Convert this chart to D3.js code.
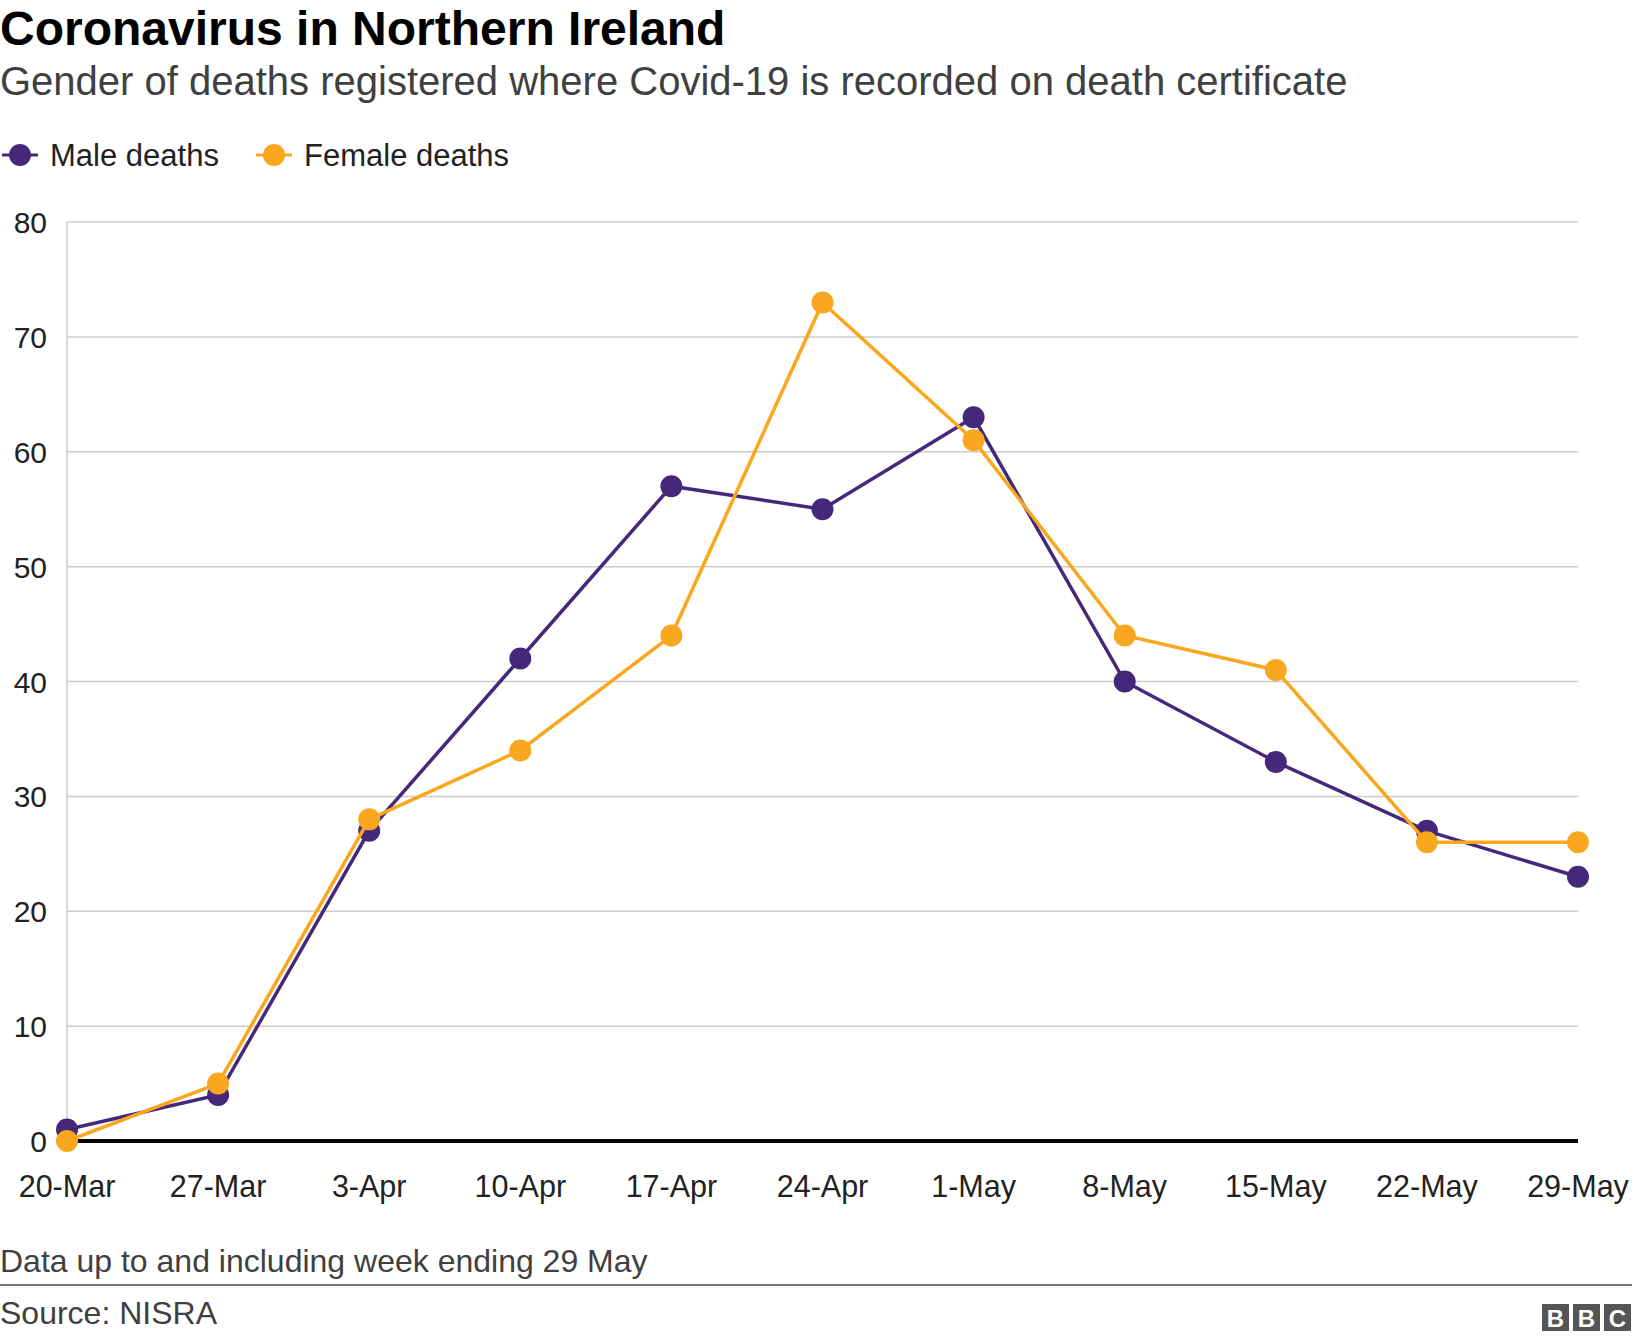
<!DOCTYPE html><html><head><meta charset="utf-8"><script src="https://cdn.jsdelivr.net/npm/d3@7"></script>
<style>body{margin:0;background:#fff}text{font-family:Arial,"Liberation Sans",sans-serif}</style></head><body><svg id="c" width="1632" height="1340"></svg>
<script>
const categories=["20-Mar","27-Mar","3-Apr","10-Apr","17-Apr","24-Apr","1-May","8-May","15-May","22-May","29-May"];
const maleDeaths=[1,4,27,42,57,55,63,40,33,27,23];
const femaleDeaths=[0,5,28,34,44,73,61,44,41,26,26];
const yTicks=[0,10,20,30,40,50,60,70,80];
const svg=d3.select("#c");
const x=d3.scalePoint().domain(categories).range([67,1578]);
const y=d3.scaleLinear().domain([0,80]).range([1141,222]);
svg.append("text").attr("x",0).attr("y",45).attr("font-size",48).attr("font-weight","bold").attr("fill","#000").text("Coronavirus in Northern Ireland");
svg.append("text").attr("x",0).attr("y",95).attr("font-size",40).attr("fill","#404040").text("Gender of deaths registered where Covid-19 is recorded on death certificate");
const series=[{name:"Male deaths",v:maleDeaths,c:"#46287a"},{name:"Female deaths",v:femaleDeaths,c:"#f9a71e"}];
const lx=[0,254];
series.forEach((s,i)=>{const g=svg.append("g").attr("transform",`translate(${lx[i]},155)`);
g.append("line").attr("x1",2).attr("x2",38).attr("stroke",s.c).attr("stroke-width",3);
g.append("circle").attr("cx",20).attr("r",11).attr("fill",s.c);
g.append("text").attr("x",50).attr("y",11).attr("font-size",31).attr("fill","#222").text(s.name);});
yTicks.forEach(t=>{svg.append("line").attr("x1",67).attr("x2",1578).attr("y1",y(t)).attr("y2",y(t)).attr("stroke",t?"#cccccc":"#000").attr("stroke-width",t?1.5:4);
svg.append("text").attr("x",47).attr("y",y(t)+11).attr("text-anchor","end").attr("font-size",30).attr("fill","#222").text(t);});
svg.append("line").attr("x1",67).attr("x2",67).attr("y1",222).attr("y2",1141).attr("stroke","#cccccc").attr("stroke-width",1.5);
categories.forEach(c=>svg.append("text").attr("x",x(c)).attr("y",1197).attr("text-anchor","middle").attr("font-size",30.5).attr("fill","#222").text(c));
series.forEach(s=>{const d=categories.map((c,i)=>[x(c),y(s.v[i])]);
svg.append("path").attr("d",d3.line()(d)).attr("fill","none").attr("stroke",s.c).attr("stroke-width",3.5);
svg.selectAll(null).data(d).enter().append("circle").attr("cx",p=>p[0]).attr("cy",p=>p[1]).attr("r",11).attr("fill",s.c);});
svg.append("text").attr("x",0).attr("y",1272).attr("font-size",32).attr("fill","#404040").text("Data up to and including week ending 29 May");
svg.append("line").attr("x1",0).attr("x2",1632).attr("y1",1285).attr("y2",1285).attr("stroke","#777").attr("stroke-width",2);
svg.append("text").attr("x",0).attr("y",1324).attr("font-size",32).attr("fill","#404040").text("Source: NISRA");
["B","B","C"].forEach((l,i)=>{const g=svg.append("g").attr("transform",`translate(${1542+i*31},1304)`);
g.append("rect").attr("width",27).attr("height",27).attr("fill","#555");
g.append("text").attr("x",13.5).attr("y",23).attr("text-anchor","middle").attr("font-size",24).attr("font-weight","bold").attr("fill","#fff").text(l);});
</script></body></html>
